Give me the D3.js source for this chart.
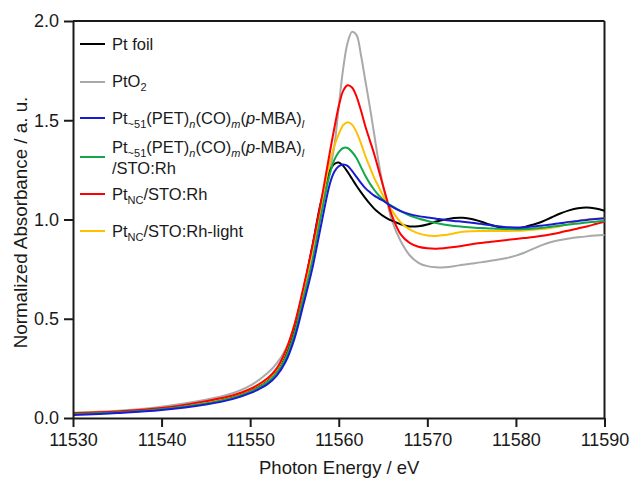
<!DOCTYPE html>
<html>
<head>
<meta charset="utf-8">
<script src="https://cdn.jsdelivr.net/npm/d3@7"></script>
<style>
  html, body { margin: 0; padding: 0; background: #fff; }
  svg { display: block; font-family: "Liberation Sans", Arial, sans-serif; }
</style>
</head>
<body>
<svg id="chart" width="632" height="479"></svg>
<script>
// ---- data ----
const energies = [11530, 11535, 11540, 11545, 11548, 11550, 11552, 11553, 11554, 11555,
  11556, 11557, 11558, 11559, 11559.5, 11560, 11560.5, 11561, 11561.5, 11562,
  11562.5, 11563, 11563.5, 11564, 11564.5, 11565, 11565.5, 11566, 11567, 11568,
  11569, 11570, 11571, 11572, 11573, 11574, 11575, 11576, 11577, 11578,
  11579, 11580, 11581, 11582, 11583, 11584, 11585, 11586, 11587, 11588, 11589, 11590];

const ptFoil = [0.022, 0.030, 0.047, 0.078, 0.107, 0.140, 0.195, 0.242, 0.322, 0.455,
  0.640, 0.860, 1.090, 1.245, 1.280, 1.287, 1.270, 1.240, 1.205, 1.170,
  1.138, 1.108, 1.080, 1.055, 1.035, 1.018, 1.005, 0.994, 0.976, 0.965,
  0.966, 0.975, 0.990, 1.000, 1.008, 1.009, 1.003, 0.990, 0.975, 0.962,
  0.953, 0.954, 0.962, 0.975, 0.990, 1.010, 1.030, 1.046, 1.057, 1.061, 1.055, 1.044];

const ptO2 = [0.025, 0.036, 0.057, 0.092, 0.125, 0.163, 0.228, 0.275, 0.345, 0.460,
  0.640, 0.855, 1.050, 1.250, 1.370, 1.570, 1.760, 1.890, 1.945, 1.930,
  1.830, 1.700, 1.570, 1.430, 1.290, 1.170, 1.080, 0.995, 0.890, 0.820,
  0.782, 0.765, 0.759, 0.760, 0.765, 0.772, 0.778, 0.784, 0.791, 0.798,
  0.806, 0.818, 0.834, 0.853, 0.872, 0.887, 0.897, 0.904, 0.910, 0.915, 0.919, 0.922];

const ptCluster = [0.015, 0.025, 0.040, 0.068, 0.095, 0.125, 0.172, 0.214, 0.283, 0.400,
  0.570, 0.750, 0.970, 1.180, 1.240, 1.268, 1.277, 1.270, 1.245, 1.215,
  1.185, 1.158, 1.138, 1.120, 1.107, 1.095, 1.080, 1.065, 1.042, 1.027,
  1.017, 1.010, 1.004, 0.998, 0.993, 0.989, 0.984, 0.978, 0.972, 0.966,
  0.961, 0.960, 0.961, 0.965, 0.970, 0.975, 0.981, 0.988, 0.993, 0.998, 1.002, 1.006];

const ptClusterSTO = [0.020, 0.028, 0.044, 0.073, 0.101, 0.132, 0.182, 0.226, 0.301, 0.425,
  0.600, 0.790, 1.020, 1.230, 1.300, 1.340, 1.360, 1.360, 1.340, 1.310,
  1.265, 1.220, 1.182, 1.150, 1.122, 1.100, 1.082, 1.068, 1.042, 1.020,
  1.005, 0.993, 0.982, 0.973, 0.967, 0.963, 0.960, 0.957, 0.955, 0.953,
  0.952, 0.951, 0.952, 0.955, 0.959, 0.964, 0.969, 0.975, 0.980, 0.985, 0.989, 0.992];

const ptNC = [0.025, 0.033, 0.050, 0.085, 0.113, 0.146, 0.201, 0.250, 0.338, 0.470,
  0.655, 0.860, 1.090, 1.340, 1.460, 1.570, 1.648, 1.676, 1.665, 1.620,
  1.550, 1.470, 1.400, 1.330, 1.250, 1.170, 1.090, 1.020, 0.925, 0.882,
  0.863, 0.855, 0.853, 0.856, 0.861, 0.868, 0.875, 0.882, 0.887, 0.892,
  0.897, 0.902, 0.907, 0.912, 0.918, 0.926, 0.935, 0.945, 0.955, 0.965, 0.977, 0.989];

const ptNCLight = [0.025, 0.032, 0.049, 0.080, 0.110, 0.143, 0.198, 0.245, 0.333, 0.470,
  0.640, 0.840, 1.070, 1.290, 1.370, 1.430, 1.475, 1.490, 1.478, 1.440,
  1.385, 1.320, 1.265, 1.210, 1.165, 1.120, 1.080, 1.045, 0.985, 0.950,
  0.930, 0.919, 0.917, 0.922, 0.930, 0.938, 0.941, 0.942, 0.942, 0.942,
  0.942, 0.943, 0.945, 0.948, 0.952, 0.958, 0.966, 0.978, 0.992, 1.000, 1.004, 1.006];

const xTicks = [11530, 11540, 11550, 11560, 11570, 11580, 11590];
const yTicks = [0.0, 0.5, 1.0, 1.5, 2.0];

const xTitle = "Photon Energy / eV";
const yTitle = "Normalized Absorbance / a. u.";

// legend label segments: [text, subscript?, italic?]
const labelFoil = [["Pt foil"]];
const labelO2 = [["PtO"], ["2", true]];
const labelCluster = [["Pt"], ["~51", true], ["(PET)"], ["n", true, true], ["(CO)"], ["m", true, true], ["("], ["p", false, true], ["-MBA)"], ["l", true, true]];
const labelCluster2 = [["/STO:Rh"]];
const labelNC = [["Pt"], ["NC", true], ["/STO:Rh"]];
const labelNCLight = [["Pt"], ["NC", true], ["/STO:Rh-light"]];

const series = [
  { values: ptO2, color: "#a9a9a9", label: [labelO2] },
  { values: ptFoil, color: "#000000", label: [labelFoil] },
  { values: ptNCLight, color: "#ffc000", label: [labelNCLight] },
  { values: ptNC, color: "#ff0000", label: [labelNC] },
  { values: ptClusterSTO, color: "#11a84a", label: [labelCluster, labelCluster2] },
  { values: ptCluster, color: "#1a1ad2", label: [labelCluster] }
];
const legendOrder = [1, 0, 5, 4, 3, 2];

// ---- layout ----
const m = { left: 73, right: 604.5, top: 21, bottom: 418 };
const svg = d3.select("#chart");

const x = d3.scaleLinear().domain([11530, 11590]).range([m.left, m.right]);
const y = d3.scaleLinear().domain([0, 2]).range([m.bottom, m.top]);

const axisColor = "#1a1a1a";

// frame (top and right)
svg.append("line").attr("x1", m.left).attr("x2", m.right).attr("y1", m.top).attr("y2", m.top)
  .attr("stroke", axisColor).attr("stroke-width", 2);
svg.append("line").attr("x1", m.right).attr("x2", m.right).attr("y1", m.top).attr("y2", m.bottom)
  .attr("stroke", axisColor).attr("stroke-width", 2);

// curves
const line = d3.line()
  .x((d, i) => x(energies[i]))
  .y(d => y(d))
  .curve(d3.curveCatmullRom.alpha(0.5));

const curves = svg.append("g");
series.forEach(s => {
  curves.append("path")
    .attr("d", line(s.values))
    .attr("fill", "none")
    .attr("stroke", s.color)
    .attr("stroke-width", 2)
    .attr("stroke-linejoin", "round");
});

// axes
const xAxis = svg.append("g").attr("transform", `translate(0,${m.bottom})`)
  .call(d3.axisBottom(x).tickValues(xTicks).tickFormat(d3.format("d")).tickSize(9).tickSizeOuter(0).tickPadding(6));
const yAxis = svg.append("g").attr("transform", `translate(${m.left},0)`)
  .call(d3.axisLeft(y).tickValues(yTicks).tickFormat(d3.format(".1f")).tickSize(9).tickSizeOuter(0).tickPadding(5));

[xAxis, yAxis].forEach(g => {
  g.select(".domain").attr("stroke", axisColor).attr("stroke-width", 2);
  g.selectAll(".tick line").attr("stroke", axisColor).attr("stroke-width", 2);
  g.selectAll(".tick text").attr("fill", "#1a1a1a").style("font-size", "18px")
    .style("font-family", '"Liberation Sans", Arial, sans-serif');
});

// axis titles
svg.append("text").attr("x", (m.left + m.right) / 2 + 0.5).attr("y", 474)
  .attr("text-anchor", "middle").style("font-size", "18.5px").attr("fill", "#1a1a1a").text(xTitle);
svg.append("text").attr("transform", `translate(27,${(m.top + m.bottom) / 2 + 3}) rotate(-90)`)
  .attr("text-anchor", "middle").style("font-size", "18.8px").attr("fill", "#1a1a1a").text(yTitle);

// legend
const legendRows = [
  { lineY: 44, textY: [49.5] },
  { lineY: 82, textY: [87] },
  { lineY: 118, textY: [123.5] },
  { lineY: 157, textY: [153, 174] },
  { lineY: 194, textY: [200] },
  { lineY: 231, textY: [236.5] }
];
const lg = svg.append("g");
legendOrder.forEach((si, r) => {
  const s = series[si];
  const row = legendRows[r];
  lg.append("line").attr("x1", 80).attr("x2", 105).attr("y1", row.lineY).attr("y2", row.lineY)
    .attr("stroke", s.color).attr("stroke-width", 2);
  s.label.forEach((segs, li) => {
    const t = lg.append("text").attr("x", 112).attr("y", row.textY[li])
      .style("font-size", "16.5px").attr("fill", "#1a1a1a");
    let shifted = false;
    segs.forEach(seg => {
      const [txt, sub, ital] = seg;
      const ts = t.append("tspan").text(txt);
      if (sub) {
        ts.style("font-size", "11px");
        if (!shifted) { ts.attr("dy", 4); shifted = true; }
      } else if (shifted) {
        ts.attr("dy", -4); shifted = false;
      }
      if (ital) ts.style("font-style", "italic");
    });
  });
});
</script>
</body>
</html>
